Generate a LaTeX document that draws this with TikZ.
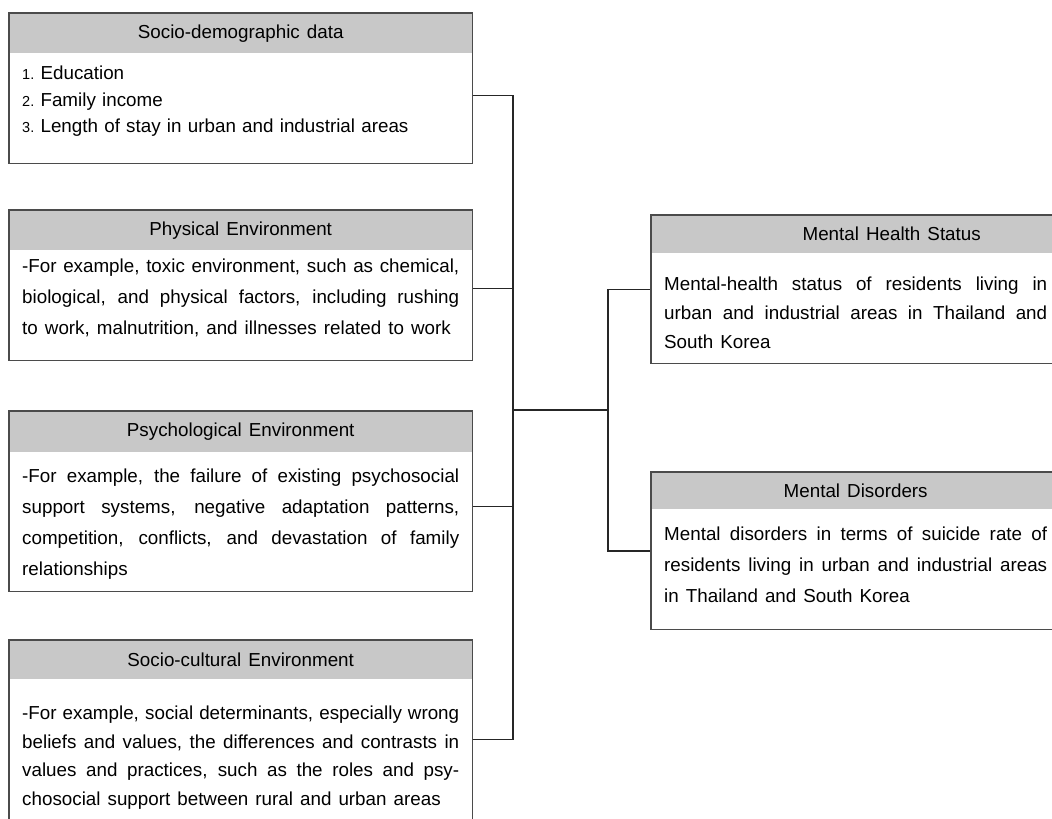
\documentclass[tikz,border=0pt]{standalone}
\usepackage{fontspec}
\setmainfont{Liberation Sans}[WordSpace={1.35,1.5,1}]
\usetikzlibrary{fit,positioning}

\definecolor{hdrgray}{RGB}{200,200,200}
\definecolor{boxline}{RGB}{75,75,75}

\newcommand{\numitem}[1]{{\fontsize{14.5}{14.5}\selectfont #1}\ }

\begin{document}
\begin{tikzpicture}[x=1pt, y=-1pt,
  hdr/.style={fill=hdrgray, inner sep=0pt, minimum width=463pt, minimum height=40pt,
    anchor=north west, font=\fontsize{18.8}{22}\selectfont},
  body/.style={inner xsep=13pt, inner ysep=0pt, text width=437pt, align=justify,
    anchor=north, font=\fontsize{18.8}{30}\selectfont},
  frame/.style={draw=boxline, line width=1.3pt, inner sep=0pt},
  link/.style={draw=black!85, line width=1.2pt}]

\useasboundingbox (0,0) rectangle (1052,819);
\clip (0,0) rectangle (1052,819);

% left column
\node[hdr] (socioH) at (9,13) {Socio-demographic data};
\node[body, align=left, text height=26pt, text depth=84pt,
  font=\fontsize{18.8}{26.5}\selectfont] (socio) at (socioH.south)
  {\numitem{1.}Education\\ \numitem{2.}Family income\\
   \numitem{3.}Length of stay in urban and industrial areas};
\node[frame, fit=(socioH)(socio)] (socioBox) {};

\node[hdr] (physH) at (9,210) {Physical Environment};
\node[body, text height=22pt, text depth=88pt,
  font=\fontsize{18.8}{31}\selectfont] (phys) at (physH.south)
  {\parfillskip=0pt -For example, toxic environment, such as chemical,\linebreak
   biological, and physical factors, including rushing\linebreak
   to work, malnutrition, and illnesses related to work};
\node[frame, fit=(physH)(phys)] (physBox) {};

\node[hdr, minimum height=41pt] (psychH) at (9,411) {Psychological Environment};
\node[body, text height=30pt, text depth=109pt,
  font=\fontsize{18.8}{31}\selectfont] (psych) at (psychH.south)
  {-For example, the failure of existing psychosocial\linebreak
   support systems, negative adaptation patterns,\linebreak
   competition, conflicts, and devastation of family\linebreak
   relationships};
\node[frame, fit=(psychH)(psych)] (psychBox) {};

\node[hdr, minimum height=39pt] (cultH) at (9,640) {Socio-cultural Environment};
\node[body, text height=40pt, text depth=119pt,
  font=\fontsize{18.8}{28.5}\selectfont] (cult) at (cultH.south)
  {\parfillskip=0pt -For example, social determinants, especially wrong\linebreak
   beliefs and values, the differences and contrasts in\linebreak
   values and practices, such as the roles and psy-\linebreak
   chosocial support between rural and urban areas};
\node[frame, fit=(cultH)(cult)] (cultBox) {};

% right column
\node[hdr, minimum width=409pt, minimum height=38pt] (healthH) at (651,215)
  {\hspace*{72pt}Mental Health Status};
\node[body, text width=383pt, text height=37pt, text depth=73pt,
  font=\fontsize{18.8}{29}\selectfont] (health) at (healthH.south)
  {Mental-health status of residents living in\linebreak
   urban and industrial areas in Thailand and\linebreak
   South Korea};
\node[frame, fit=(healthH)(health)] (healthBox) {};

\node[hdr, minimum width=409pt, minimum height=37pt] (disordH) at (651,472)
  {Mental Disorders};
\node[body, text width=383pt, text height=31pt, text depth=89pt,
  font=\fontsize{18.8}{31}\selectfont] (disord) at (disordH.south)
  {Mental disorders in terms of suicide rate of\linebreak
   residents living in urban and industrial areas\linebreak
   in Thailand and South Korea};
\node[frame, fit=(disordH)(disord)] (disordBox) {};

% connectors
\coordinate (hubL) at (513,410);
\coordinate (hubR) at (608,410);
\draw[link] ([yshift=-7pt]socioBox.east) -| (hubL);
\draw[link] ([yshift=-3pt]physBox.east) -- ([yshift=-3pt]physBox.east -| hubL);
\draw[link] ([yshift=-5pt]psychBox.east) -- ([yshift=-5pt]psychBox.east -| hubL);
\draw[link] (cultBox.east) -| (hubL);
\draw[link] (hubL) -- (hubR);
\draw[link] (hubR) |- (healthBox.west);
\draw[link] (hubR) |- (disordBox.west);
\end{tikzpicture}
\end{document}
